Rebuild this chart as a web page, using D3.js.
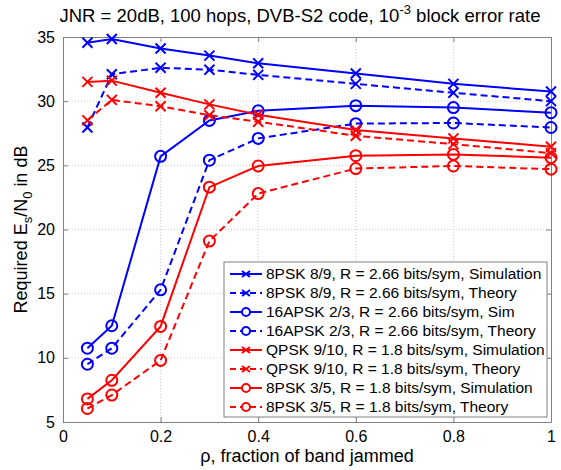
<!DOCTYPE html>
<html>
<head>
<meta charset="utf-8">
<script src="https://cdn.jsdelivr.net/npm/d3@7"></script>
<style>
body { margin: 0; background: #fff; }
svg { font-family: "Liberation Sans", Arial, sans-serif; }
.grid line { stroke: #c8c8c8; stroke-dasharray: 1,2; }
</style>
</head>
<body>
<div id="chart"></div>
<script>
// fraction of band jammed
const rho = [0.05, 0.1, 0.2, 0.3, 0.4, 0.6, 0.8, 1.0];

// required Es/N0 (dB)
const psk89Sim    = [34.55, 34.85, 34.1, 33.55, 32.95, 32.15, 31.35, 30.75];
const psk89Theory = [27.95, 32.1, 32.6, 32.45, 32.05, 31.35, 30.65, 30.0];
const apsk23Sim    = [10.75, 12.5, 25.7, 28.5, 29.25, 29.65, 29.5, 29.1];
const apsk23Theory = [9.5, 10.75, 15.3, 25.4, 27.1, 28.25, 28.3, 27.95];
const qpsk910Sim    = [31.5, 31.6, 30.65, 29.75, 28.95, 27.75, 27.1, 26.45];
const qpsk910Theory = [28.5, 30.1, 29.6, 28.9, 28.4, 27.3, 26.65, 25.95];
const psk35Sim    = [6.8, 8.25, 12.45, 23.3, 24.95, 25.75, 25.85, 25.6];
const psk35Theory = [6.05, 7.1, 9.8, 19.1, 22.8, 24.75, 24.95, 24.7];

const seriesNames = [
    "8PSK 8/9, R = 2.66 bits/sym, Simulation",
    "8PSK 8/9, R = 2.66 bits/sym, Theory",
    "16APSK 2/3, R = 2.66 bits/sym, Sim",
    "16APSK 2/3, R = 2.66 bits/sym, Theory",
    "QPSK 9/10, R = 1.8 bits/sym, Simulation",
    "QPSK 9/10, R = 1.8 bits/sym, Theory",
    "8PSK 3/5, R = 1.8 bits/sym, Simulation",
    "8PSK 3/5, R = 1.8 bits/sym, Theory"
];
const seriesValues = [psk89Sim, psk89Theory, apsk23Sim, apsk23Theory,
                      qpsk910Sim, qpsk910Theory, psk35Sim, psk35Theory];
const seriesColour = ["blue", "blue", "blue", "blue", "red", "red", "red", "red"];
const seriesMarker = ["x", "x", "o", "o", "x", "x", "o", "o"];
const seriesDashed = [false, true, false, true, false, true, false, true];

const xTicks = [0, 0.2, 0.4, 0.6, 0.8, 1];
const yTicks = [5, 10, 15, 20, 25, 30, 35];

const width = 561, height = 470;
const margin = {top: 37, left: 63, right: 10, bottom: 48};

const svg = d3.select("#chart").append("svg")
    .attr("width", width)
    .attr("height", height);

const x = d3.scaleLinear().domain([0, 1]).range([margin.left, width - margin.right]);
const y = d3.scaleLinear().domain([5, 35]).range([height - margin.bottom, margin.top]);

// grid
const grid = svg.append("g").attr("class", "grid");
grid.selectAll(".gx").data(xTicks.slice(1, -1)).join("line")
    .attr("x1", d => x(d)).attr("x2", d => x(d))
    .attr("y1", y(5)).attr("y2", y(35));
grid.selectAll(".gy").data(yTicks.slice(1, -1)).join("line")
    .attr("class", "gy")
    .attr("x1", x(0)).attr("x2", x(1))
    .attr("y1", d => y(d)).attr("y2", d => y(d));

// axes, ticks pointing in
const axisColour = "#808080";
const xAxis = svg.append("g")
    .attr("transform", `translate(0, ${y(5)})`)
    .call(d3.axisBottom(x).tickValues(xTicks).tickSizeInner(-5).tickSizeOuter(0).tickPadding(9).tickFormat(d3.format("")));
const xAxisTop = svg.append("g")
    .attr("transform", `translate(0, ${y(35)})`)
    .call(d3.axisTop(x).tickValues(xTicks).tickSizeInner(-5).tickSizeOuter(0).tickFormat(""));
const yAxis = svg.append("g")
    .attr("transform", `translate(${x(0)}, 0)`)
    .call(d3.axisLeft(y).tickValues(yTicks).tickSizeInner(-5).tickSizeOuter(0).tickPadding(8));
const yAxisRight = svg.append("g")
    .attr("transform", `translate(${x(1)}, 0)`)
    .call(d3.axisRight(y).tickValues(yTicks).tickSizeInner(-5).tickSizeOuter(0).tickFormat(""));

[xAxis, xAxisTop, yAxis, yAxisRight].forEach(a => {
    a.selectAll("path, line").attr("stroke", axisColour);
    a.selectAll("text").attr("fill", "#000").style("font-size", "16px");
});

// lines
const line = d3.line()
    .x((d, i) => x(rho[i]))
    .y(d => y(d));

function drawMarker(g, kind, colour) {
    if (kind === "x") {
        g.append("path")
            .attr("d", "M-5,-5L5,5M-5,5L5,-5")
            .attr("stroke", colour).attr("stroke-width", 2).attr("fill", "none");
    } else {
        g.append("circle")
            .attr("r", 5.5)
            .attr("stroke", colour).attr("stroke-width", 2).attr("fill", "none");
    }
}

const series = svg.append("g").attr("class", "series");
seriesValues.forEach((vals, s) => {
    const g = series.append("g");
    g.append("path")
        .attr("d", line(vals))
        .attr("fill", "none")
        .attr("stroke", seriesColour[s])
        .attr("stroke-width", 2)
        .attr("stroke-dasharray", seriesDashed[s] ? "7,4" : null);
    g.selectAll(".pt").data(vals).join("g")
        .attr("transform", (d, i) => `translate(${x(rho[i])}, ${y(d)})`)
        .each(function() { drawMarker(d3.select(this), seriesMarker[s], seriesColour[s]); });
});

// legend
const legend = svg.append("g").attr("transform", "translate(224, 262)");
legend.append("rect")
    .attr("width", 323).attr("height", 155)
    .attr("fill", "#fff").attr("stroke", axisColour);
const rowH = 19;
const items = legend.selectAll(".item").data(seriesNames).join("g")
    .attr("transform", (d, i) => `translate(0, ${12 + i * rowH})`);
items.append("line")
    .attr("x1", 6).attr("x2", 38)
    .attr("stroke", (d, i) => seriesColour[i])
    .attr("stroke-width", 2)
    .attr("stroke-dasharray", (d, i) => seriesDashed[i] ? "6,4" : null);
items.append("g")
    .attr("transform", "translate(22, 0)")
    .each(function(d, i) {
        const m = d3.select(this);
        if (seriesMarker[i] === "x") {
            m.append("path").attr("d", "M-4,-3L4,3M-4,3L4,-3")
                .attr("stroke", seriesColour[i]).attr("stroke-width", 2);
        } else {
            m.append("circle").attr("r", 4)
                .attr("stroke", seriesColour[i]).attr("stroke-width", 2).attr("fill", "#fff");
        }
    });
items.append("text")
    .attr("x", 42).attr("dy", "0.35em")
    .style("font-size", "15.5px")
    .text(d => d);

// title
const title = svg.append("text")
    .attr("x", 300).attr("y", 22)
    .attr("text-anchor", "middle")
    .style("font-size", "18.5px");
title.append("tspan").text("JNR = 20dB, 100 hops, DVB-S2 code, 10");
title.append("tspan").attr("dy", -8).style("font-size", "13px").text("-3");
title.append("tspan").attr("dy", 8).text(" block error rate");

// axis labels
svg.append("text")
    .attr("x", x(0.5)).attr("y", 462)
    .attr("text-anchor", "middle")
    .style("font-size", "18px")
    .text("\u03c1, fraction of band jammed");

const ylab = svg.append("text")
    .attr("transform", `translate(27, ${y(20)}) rotate(-90)`)
    .attr("text-anchor", "middle")
    .style("font-size", "18px");
ylab.append("tspan").text("Required E");
ylab.append("tspan").attr("dy", 5).style("font-size", "13px").text("s");
ylab.append("tspan").attr("dy", -5).text("/N");
ylab.append("tspan").attr("dy", 5).style("font-size", "13px").text("0");
ylab.append("tspan").attr("dy", -5).text(" in dB");
</script>
</body>
</html>
